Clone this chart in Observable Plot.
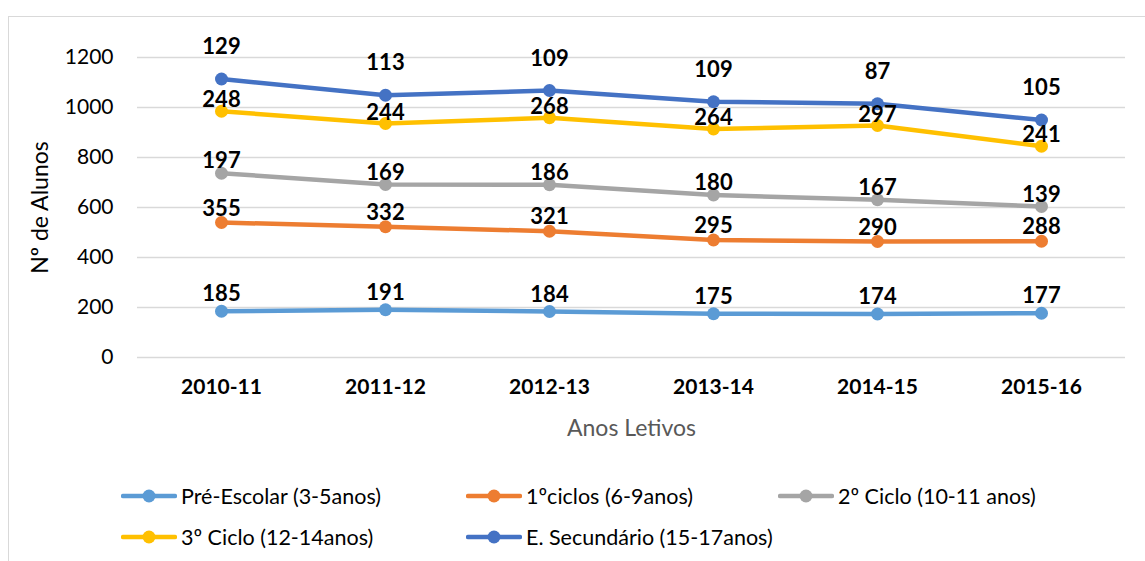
<!DOCTYPE html>
<html><head><meta charset="utf-8">
<script src="https://cdn.jsdelivr.net/npm/d3@7"></script>
<script src="https://cdn.jsdelivr.net/npm/@observablehq/plot@0.6"></script>
<style>
body{margin:0;background:#fff;font-family:Lato,"Noto Sans",sans-serif;}
#wrap{position:relative;width:1145px;height:561px;overflow:hidden;background:#fff;}
#frame{position:absolute;left:8px;top:16px;width:1150px;height:560px;border-top:1.5px solid #d9d9d9;border-left:1.5px solid #d9d9d9;box-sizing:border-box;}
#chart{position:absolute;left:0;top:0;}
.item{position:absolute;display:flex;align-items:center;font-size:21.5px;color:#000;white-space:nowrap;}
.item svg{margin-right:4px;}
</style>
</head><body>
<div id="wrap"><div id="frame"></div><div id="chart"></div><div id="legend"></div></div>
<script>
const anos = ["2010-11","2011-12","2012-13","2013-14","2014-15","2015-16"];
const preEscolar = [185,191,184,175,174,177];
const ciclo1 = [355,332,321,295,290,288];
const ciclo2 = [197,169,186,180,167,139];
const ciclo3 = [248,244,268,264,297,241];
const secundario = [129,113,109,109,87,105];
const seriesNames = ["Pré-Escolar (3-5anos)","1ºciclos (6-9anos)","2º Ciclo (10-11 anos)","3º Ciclo (12-14anos)","E. Secundário (15-17anos)"];
const seriesColors = ["#5B9BD5","#ED7D31","#A5A5A5","#FFC000","#4472C4"];
const yTicks = [0,200,400,600,800,1000,1200];
const labelDy = [-17,-14,-12,-11,-32];

const seriesValues = [preEscolar, ciclo1, ciclo2, ciclo3, secundario];
// stacked line: cumulative totals
const rows = [];
const cum = anos.map(() => 0);
seriesValues.forEach((vals, s) => {
  vals.forEach((v, i) => {
    cum[i] += v;
    rows.push({serie: seriesNames[s], idx: s, ano: anos[i], value: v, total: cum[i]});
  });
});

const marks = [
  Plot.gridY(yTicks, {stroke: "#d9d9d9", strokeOpacity: 1, strokeWidth: 1.5}),
  Plot.axisY(yTicks, {tickSize: 0, tickPadding: 24, fontSize: 21, label: null, color: "#000", tickFormat: d => String(d)}),
  Plot.axisX({tickSize: 0, tickPadding: 22, fontSize: 21, fontWeight: "bold", label: null, color: "#000"}),
  Plot.text(["Anos Letivos"], {frameAnchor: "bottom", lineAnchor: "middle", textAnchor: "middle", dy: 71, fontSize: 23, fill: "#595959"}),
  Plot.text(["Nº de Alunos"], {frameAnchor: "left", textAnchor: "middle", lineAnchor: "middle", dx: -97, rotate: -90, fontSize: 23, fill: "#000"})
];
seriesNames.forEach((name, s) => {
  const d = rows.filter(r => r.idx === s);
  marks.push(Plot.line(d, {x: "ano", y: "total", stroke: seriesColors[s], strokeWidth: 4.5}));
  marks.push(Plot.dot(d, {x: "ano", y: "total", fill: seriesColors[s], r: 6.5, stroke: "none"}));
});
seriesNames.forEach((name, s) => {
  const d = rows.filter(r => r.idx === s);
  marks.push(Plot.text(d, {x: "ano", y: "total", text: d => String(d.value), dy: labelDy[s], fontSize: 22, fontWeight: "bold", fill: "#000"}));
});

const chart = Plot.plot({
  width: 1145,
  height: 450,
  marginLeft: 137,
  marginRight: 20,
  marginTop: 57,
  marginBottom: 93,
  style: {fontFamily: "Lato, 'Noto Sans', sans-serif", background: "transparent", overflow: "visible"},
  x: {type: "point", domain: anos, padding: 0.5},
  y: {domain: [0, 1200], ticks: yTicks},
  marks
});
document.getElementById("chart").appendChild(chart);

// legend
const legendPos = [[121,496],[466,496],[778,496],[121,537],[466,537]];
const legend = document.getElementById("legend");
seriesNames.forEach((name, s) => {
  const div = document.createElement("div");
  div.className = "item";
  div.style.left = legendPos[s][0] + "px";
  div.style.top = (legendPos[s][1] - 12) + "px";
  div.style.height = "24px";
  div.innerHTML = `<svg width="56" height="16"><line x1="2" x2="54" y1="8" y2="8" stroke="${seriesColors[s]}" stroke-width="4.5" stroke-linecap="round"/><circle cx="28" cy="8" r="6.5" fill="${seriesColors[s]}"/></svg><span>${name}</span>`;
  legend.appendChild(div);
});
</script>
</body></html>
